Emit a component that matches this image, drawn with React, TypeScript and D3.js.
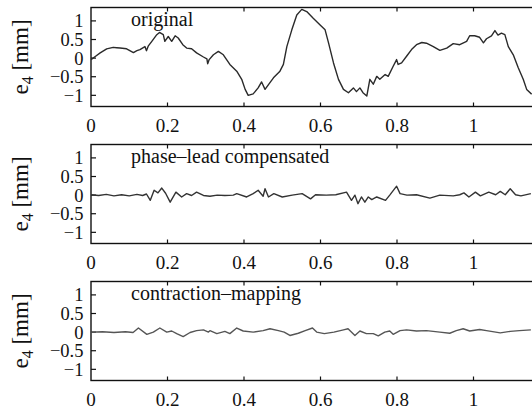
import React from "react";
import * as d3 from "d3";

const xTicks = [0.2, 0.4, 0.6, 0.8, 1];
const xTickLabels = ["0", "0.2", "0.4", "0.6", "0.8", "1"];
const xLabelValues = [0, 0.2, 0.4, 0.6, 0.8, 1];
const yTicks = [1, 0.5, 0, -0.5, -1];
const yTickLabels = ["1", "0.5", "0", "\u22120.5", "\u22121"];
const panelTitles = ["original", "phase\u2013lead compensated", "contraction\u2013mapping"];

const originalSeries: [number, number][] = [
  [0, -0.04], [0.012, 0.05], [0.024, 0.14], [0.041, 0.25], [0.058, 0.29], [0.067, 0.28],
  [0.076, 0.27], [0.093, 0.25], [0.111, 0.15], [0.12, 0.2], [0.128, 0.23], [0.141, 0.31],
  [0.145, 0.2], [0.15, 0.33], [0.159, 0.45], [0.172, 0.63], [0.179, 0.69], [0.189, 0.63],
  [0.193, 0.45], [0.202, 0.58], [0.211, 0.45], [0.22, 0.6], [0.228, 0.54], [0.24, 0.36],
  [0.25, 0.27], [0.263, 0.25], [0.276, 0.14], [0.294, 0.03], [0.303, -0.02], [0.305, -0.15],
  [0.309, -0.04], [0.32, 0.09], [0.333, 0.18], [0.346, 0.09], [0.363, -0.17], [0.381, -0.35],
  [0.394, -0.57], [0.403, -0.84], [0.411, -1.0], [0.424, -0.96], [0.437, -0.8], [0.446, -0.64],
  [0.455, -0.84], [0.464, -0.71], [0.477, -0.53], [0.494, -0.35], [0.503, -0.17], [0.512, 0.31],
  [0.525, 0.76], [0.538, 1.16], [0.551, 1.31], [0.564, 1.25], [0.581, 1.07], [0.599, 0.89],
  [0.612, 0.76], [0.621, 0.41], [0.634, -0.13], [0.647, -0.57], [0.66, -0.84], [0.673, -0.93],
  [0.686, -0.8], [0.694, -0.9], [0.703, -0.8], [0.711, -0.93], [0.721, -1.02], [0.729, -0.57],
  [0.738, -0.7], [0.747, -0.49], [0.755, -0.57], [0.769, -0.44], [0.777, -0.49], [0.79, -0.22],
  [0.799, -0.04], [0.803, -0.17], [0.812, -0.13], [0.825, 0.05], [0.838, 0.23], [0.851, 0.36],
  [0.865, 0.42], [0.877, 0.4], [0.895, 0.31], [0.912, 0.21], [0.93, 0.27], [0.947, 0.39],
  [0.964, 0.36], [0.982, 0.45], [0.99, 0.6], [1.003, 0.6], [1.016, 0.56], [1.026, 0.41],
  [1.034, 0.52], [1.047, 0.6], [1.056, 0.74], [1.064, 0.62], [1.073, 0.67], [1.082, 0.63],
  [1.091, 0.31], [1.104, 0.09], [1.117, -0.26], [1.13, -0.57], [1.139, -0.84], [1.152, -0.97],
];

const phaseLeadSeries: [number, number][] = [
  [0, 0.01], [0.02, -0.01], [0.04, 0.02], [0.06, -0.02], [0.08, 0.01], [0.1, -0.02],
  [0.12, 0.02], [0.135, -0.01], [0.145, 0.03], [0.155, -0.14], [0.165, 0.13], [0.175, 0.06],
  [0.185, 0.19], [0.195, 0.05], [0.207, -0.19], [0.222, 0.08], [0.237, -0.05], [0.25, 0.04],
  [0.263, -0.01], [0.276, 0.08], [0.294, -0.01], [0.311, -0.03], [0.33, 0.0], [0.35, -0.01],
  [0.372, 0.0], [0.381, 0.04], [0.407, -0.05], [0.424, 0.04], [0.437, 0.13], [0.45, -0.03],
  [0.455, 0.17], [0.464, -0.05], [0.478, 0.04], [0.5, -0.05], [0.526, 0.0], [0.552, 0.04],
  [0.574, -0.1], [0.587, 0.01], [0.615, 0.0], [0.64, 0.01], [0.668, 0.08], [0.681, -0.14],
  [0.69, 0.0], [0.698, -0.23], [0.707, -0.05], [0.716, -0.19], [0.725, -0.05], [0.734, -0.12],
  [0.747, -0.05], [0.77, -0.14], [0.781, 0.0], [0.799, 0.24], [0.808, 0.04], [0.826, 0.0],
  [0.851, 0.01], [0.886, -0.08], [0.912, 0.0], [0.947, -0.02], [0.964, 0.01], [0.975, 0.06],
  [0.988, -0.05], [1.005, 0.08], [1.018, -0.02], [1.04, 0.08], [1.058, 0.01], [1.07, 0.1],
  [1.083, 0.01], [1.096, 0.17], [1.11, 0.01], [1.124, -0.02], [1.15, 0.04],
];

const contractionSeries: [number, number][] = [
  [0, 0.0], [0.03, 0.01], [0.06, -0.01], [0.09, 0.01], [0.11, -0.01], [0.124, 0.11],
  [0.146, -0.06], [0.163, 0.0], [0.18, 0.11], [0.198, 0.0], [0.211, 0.03], [0.224, -0.04],
  [0.241, -0.12], [0.259, -0.01], [0.276, 0.04], [0.294, 0.06], [0.307, 0.0], [0.311, 0.04],
  [0.329, -0.04], [0.35, 0.02], [0.363, -0.04], [0.381, 0.11], [0.398, 0.03], [0.424, 0.0],
  [0.45, 0.04], [0.468, 0.09], [0.49, 0.04], [0.505, 0.0], [0.52, -0.09], [0.542, -0.03],
  [0.56, 0.04], [0.579, 0.11], [0.59, 0.0], [0.61, -0.04], [0.635, 0.0], [0.66, 0.06],
  [0.672, 0.09], [0.69, -0.09], [0.703, 0.03], [0.72, -0.04], [0.738, -0.04], [0.751, -0.1],
  [0.768, 0.0], [0.781, 0.03], [0.79, -0.06], [0.808, 0.04], [0.825, 0.06], [0.851, 0.03],
  [0.877, 0.04], [0.912, 0.0], [0.938, -0.03], [0.955, 0.04], [0.973, 0.09], [0.99, 0.03],
  [1.016, 0.07], [1.034, 0.04], [1.07, -0.02], [1.096, 0.02], [1.12, 0.04], [1.15, 0.06],
];

const seriesList = [originalSeries, phaseLeadSeries, contractionSeries];
const seriesColors = ["#2a2a2a", "#333333", "#555555"];
const panelTops = [7.5, 144.5, 281.5];

const W = 532;
const H = 410;
const panelH = 99;
const font = "'Liberation Serif', 'DejaVu Serif', 'Times New Roman', Times, serif";

const x = d3.scaleLinear().domain([0, 1.2]).range([91, 91 + 1.2 * 382.5]);

function Panel({ idx }: { idx: number }) {
  const top = panelTops[idx];
  const y = d3.scaleLinear().domain([-1.3, 1.36]).range([top + panelH, top]);
  const line = d3
    .line<[number, number]>()
    .x((d) => x(d[0]))
    .y((d) => y(d[1]))
    .curve(d3.curveLinear);
  const left = x(0);
  const right = x(1.2);
  const bottom = top + panelH;
  const midY = top + panelH / 2;
  return (
    <g>
      <rect x={left} y={top} width={right - left} height={panelH} fill="none" stroke="#111" strokeWidth={1.4} />
      {xTicks.map((t) => (
        <g key={"xt" + t}>
          <line x1={x(t)} x2={x(t)} y1={bottom} y2={bottom - 4} stroke="#111" strokeWidth={1.2} />
          <line x1={x(t)} x2={x(t)} y1={top} y2={top + 4} stroke="#111" strokeWidth={1.2} />
        </g>
      ))}
      {yTicks.map((t) => (
        <line key={"yt" + t} x1={left} x2={left + 5} y1={y(t)} y2={y(t)} stroke="#111" strokeWidth={1.2} />
      ))}
      {xLabelValues.map((t, i) => (
        <text key={"xl" + t} x={x(t)} y={bottom + 25.5} textAnchor="middle" fontSize={19} style={{ fontFamily: font }} fill="#111">
          {xTickLabels[i]}
        </text>
      ))}
      {yTicks.map((t, i) => (
        <text key={"yl" + t} x={83.5} y={y(t)} dy="0.35em" textAnchor="end" fontSize={18.5} style={{ fontFamily: font }} fill="#111">
          {yTickLabels[i]}
        </text>
      ))}
      <text transform={`translate(28, ${midY}) rotate(-90)`} textAnchor="middle" fontSize={23} style={{ fontFamily: font }} fill="#111">
        e<tspan fontSize={16} dy="5">4</tspan>
        <tspan dy="-5"> [mm]</tspan>
      </text>
      <text x={131} y={top + 18.5} fontSize={20} style={{ fontFamily: font }} fill="#111">
        {panelTitles[idx]}
      </text>
      <path d={line(seriesList[idx]) || ""} fill="none" stroke={seriesColors[idx]} strokeWidth={1.4} strokeLinejoin="round" />
    </g>
  );
}

export default function App() {
  return (
    <svg width={W} height={H} style={{ position: "absolute", left: 0, top: 0, background: "#fff" }}>
      <rect width={W} height={H} fill="#fff" />
      {[0, 1, 2].map((i) => (
        <Panel key={i} idx={i} />
      ))}
    </svg>
  );
}
